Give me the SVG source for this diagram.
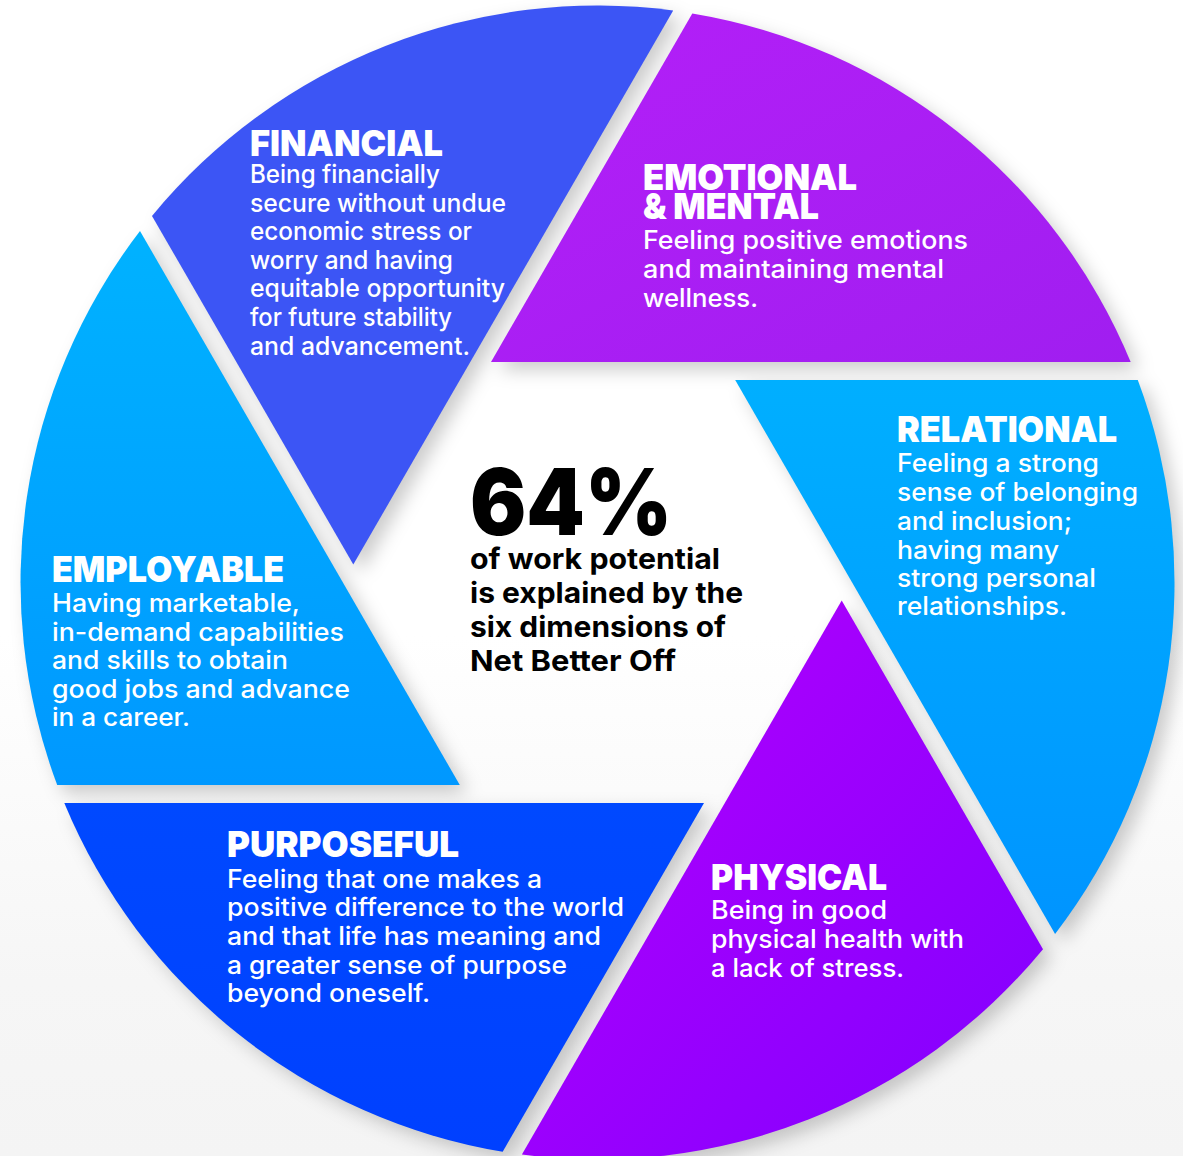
<svg xmlns="http://www.w3.org/2000/svg" width="1183" height="1156" viewBox="0 0 1183 1156">
  <style>
    text { font-family: Inter, "Liberation Sans", sans-serif; }
    .w { fill: #ffffff; }
    .h { font-weight: 900; font-size: 36px; }
    .b { font-weight: 500; font-size: 25px; }
    .big { font-weight: 900; font-size: 92px; }
    .cb { font-weight: 700; font-size: 29px; }
    .k { fill: #000000; }
  </style>
  <defs>
    <linearGradient id="bg" x1="0" y1="0" x2="0" y2="1">
      <stop offset="0" stop-color="#ffffff"/>
      <stop offset="0.55" stop-color="#ffffff"/>
      <stop offset="0.85" stop-color="#f6f6f6"/>
      <stop offset="1" stop-color="#f4f4f4"/>
    </linearGradient>
    <linearGradient id="gEmo" x1="0" y1="0" x2="1" y2="1">
      <stop offset="0" stop-color="#b41ff8"/>
      <stop offset="1" stop-color="#a01ef0"/>
    </linearGradient>
    <linearGradient id="gRel" x1="0" y1="0" x2="0" y2="1">
      <stop offset="0" stop-color="#00afff"/>
      <stop offset="1" stop-color="#0094ff"/>
    </linearGradient>
    <linearGradient id="gPhy" x1="0" y1="0" x2="1" y2="1">
      <stop offset="0" stop-color="#b600fc"/>
      <stop offset="1" stop-color="#8000ff"/>
    </linearGradient>
    <linearGradient id="gPur" x1="0" y1="0" x2="0" y2="1">
      <stop offset="0" stop-color="#0049ff"/>
      <stop offset="1" stop-color="#0040ff"/>
    </linearGradient>
    <linearGradient id="gEmp" x1="0" y1="0" x2="0" y2="1">
      <stop offset="0" stop-color="#00b2ff"/>
      <stop offset="1" stop-color="#0098ff"/>
    </linearGradient>
    <filter id="shadow" x="-20%" y="-20%" width="140%" height="140%">
      <feGaussianBlur in="SourceAlpha" stdDeviation="9"/>
      <feOffset dx="8" dy="8" result="o"/>
      <feFlood flood-color="#000000" flood-opacity="0.2"/>
      <feComposite in2="o" operator="in"/>
    </filter>
    <path id="sFin" d="M353.3,564.5 L673.2,10.5 A577,577 0 0 0 152.0,215.9 Z"/>
    <path id="sEmo" d="M491.0,362 L1130.7,362 A577,577 0 0 0 692.3,13.4 Z"/>
    <path id="sRel" d="M735.2,380 L1055.1,934 A577,577 0 0 0 1137.8,380 Z"/>
    <path id="sPhy" d="M841.7,600.5 L521.9,1154.5 A577,577 0 0 0 1043.0,949.2 Z"/>
    <path id="sPur" d="M704.0,803 L64.3,803 A577,577 0 0 0 502.7,1151.7 Z"/>
    <path id="sEmp" d="M459.8,785 L140.0,231 A577,577 0 0 0 57.2,785 Z"/>
  </defs>

  <rect x="0" y="0" width="1183" height="1156" fill="url(#bg)"/>

  <g id="shadows" filter="url(#shadow)">
    <use href="#sFin"/>
    <use href="#sEmo"/>
    <use href="#sRel"/>
    <use href="#sPhy"/>
    <use href="#sPur"/>
    <use href="#sEmp"/>
  </g>

  <g id="financial">
    <use href="#sFin" fill="#3c55f5"/>
    <text class="w">
      <tspan class="h" x="250" y="156" textLength="193" lengthAdjust="spacingAndGlyphs">FINANCIAL</tspan>
      <tspan class="b" x="250" y="183" textLength="190" lengthAdjust="spacingAndGlyphs">Being financially</tspan>
      <tspan class="b" x="250" y="212" textLength="256" lengthAdjust="spacingAndGlyphs">secure without undue</tspan>
      <tspan class="b" x="250" y="240" textLength="222" lengthAdjust="spacingAndGlyphs">economic stress or</tspan>
      <tspan class="b" x="250" y="269" textLength="203" lengthAdjust="spacingAndGlyphs">worry and having</tspan>
      <tspan class="b" x="250" y="297" textLength="255" lengthAdjust="spacingAndGlyphs">equitable opportunity</tspan>
      <tspan class="b" x="250" y="326" textLength="202" lengthAdjust="spacingAndGlyphs">for future stability</tspan>
      <tspan class="b" x="250" y="355" textLength="220" lengthAdjust="spacingAndGlyphs">and advancement.</tspan>
    </text>
  </g>

  <g id="emotional-mental">
    <use href="#sEmo" fill="url(#gEmo)"/>
    <text class="w">
      <tspan class="h" x="643" y="190" textLength="214" lengthAdjust="spacingAndGlyphs">EMOTIONAL</tspan>
      <tspan class="h" x="643" y="219" textLength="176" lengthAdjust="spacingAndGlyphs">&amp; MENTAL</tspan>
      <tspan class="b" x="643" y="249" textLength="325" lengthAdjust="spacingAndGlyphs">Feeling positive emotions</tspan>
      <tspan class="b" x="643" y="278" textLength="301" lengthAdjust="spacingAndGlyphs">and maintaining mental</tspan>
      <tspan class="b" x="643" y="307" textLength="115" lengthAdjust="spacingAndGlyphs">wellness.</tspan>
    </text>
  </g>

  <g id="relational">
    <use href="#sRel" fill="url(#gRel)"/>
    <text class="w">
      <tspan class="h" x="897" y="442" textLength="220" lengthAdjust="spacingAndGlyphs">RELATIONAL</tspan>
      <tspan class="b" x="897" y="472" textLength="202" lengthAdjust="spacingAndGlyphs">Feeling a strong</tspan>
      <tspan class="b" x="897" y="501" textLength="241" lengthAdjust="spacingAndGlyphs">sense of belonging</tspan>
      <tspan class="b" x="897" y="530" textLength="175" lengthAdjust="spacingAndGlyphs">and inclusion;</tspan>
      <tspan class="b" x="897" y="559" textLength="162" lengthAdjust="spacingAndGlyphs">having many</tspan>
      <tspan class="b" x="897" y="587" textLength="199" lengthAdjust="spacingAndGlyphs">strong personal</tspan>
      <tspan class="b" x="897" y="615" textLength="170" lengthAdjust="spacingAndGlyphs">relationships.</tspan>
    </text>
  </g>

  <g id="physical">
    <use href="#sPhy" fill="url(#gPhy)"/>
    <text class="w">
      <tspan class="h" x="711" y="890" textLength="176" lengthAdjust="spacingAndGlyphs">PHYSICAL</tspan>
      <tspan class="b" x="711" y="919" textLength="176" lengthAdjust="spacingAndGlyphs">Being in good</tspan>
      <tspan class="b" x="711" y="948" textLength="253" lengthAdjust="spacingAndGlyphs">physical health with</tspan>
      <tspan class="b" x="711" y="977" textLength="193" lengthAdjust="spacingAndGlyphs">a lack of stress.</tspan>
    </text>
  </g>

  <g id="purposeful">
    <use href="#sPur" fill="url(#gPur)"/>
    <text class="w">
      <tspan class="h" x="227" y="857" textLength="232" lengthAdjust="spacingAndGlyphs">PURPOSEFUL</tspan>
      <tspan class="b" x="227" y="888" textLength="315" lengthAdjust="spacingAndGlyphs">Feeling that one makes a</tspan>
      <tspan class="b" x="227" y="916" textLength="397" lengthAdjust="spacingAndGlyphs">positive difference to the world</tspan>
      <tspan class="b" x="227" y="945" textLength="374" lengthAdjust="spacingAndGlyphs">and that life has meaning and</tspan>
      <tspan class="b" x="227" y="974" textLength="340" lengthAdjust="spacingAndGlyphs">a greater sense of purpose</tspan>
      <tspan class="b" x="227" y="1002" textLength="203" lengthAdjust="spacingAndGlyphs">beyond oneself.</tspan>
    </text>
  </g>

  <g id="employable">
    <use href="#sEmp" fill="url(#gEmp)"/>
    <text class="w">
      <tspan class="h" x="52" y="582" textLength="232" lengthAdjust="spacingAndGlyphs">EMPLOYABLE</tspan>
      <tspan class="b" x="52" y="612" textLength="248" lengthAdjust="spacingAndGlyphs">Having marketable,</tspan>
      <tspan class="b" x="52" y="641" textLength="292" lengthAdjust="spacingAndGlyphs">in-demand capabilities</tspan>
      <tspan class="b" x="52" y="669" textLength="236" lengthAdjust="spacingAndGlyphs">and skills to obtain</tspan>
      <tspan class="b" x="52" y="698" textLength="298" lengthAdjust="spacingAndGlyphs">good jobs and advance</tspan>
      <tspan class="b" x="52" y="726" textLength="138" lengthAdjust="spacingAndGlyphs">in a career.</tspan>
    </text>
  </g>

  <g id="center">
    <text class="k">
      <tspan class="big" x="470" y="535" textLength="202" lengthAdjust="spacingAndGlyphs">64%</tspan>
      <tspan class="cb" x="470" y="569" textLength="250" lengthAdjust="spacingAndGlyphs">of work potential</tspan>
      <tspan class="cb" x="470" y="603" textLength="273" lengthAdjust="spacingAndGlyphs">is explained by the</tspan>
      <tspan class="cb" x="470" y="637" textLength="256" lengthAdjust="spacingAndGlyphs">six dimensions of</tspan>
      <tspan class="cb" x="470" y="671" textLength="206" lengthAdjust="spacingAndGlyphs">Net Better Off</tspan>
    </text>
  </g>
</svg>
